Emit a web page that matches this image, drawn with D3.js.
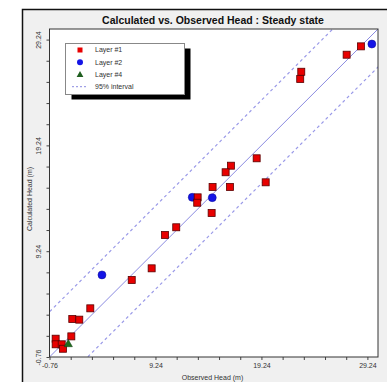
<!DOCTYPE html>
<html>
<head>
<meta charset="utf-8">
<script src="https://cdn.jsdelivr.net/npm/d3@7"></script>
<style>
  body { margin: 0; background: #fff; }
  svg { display: block; font-family: "Liberation Sans", Arial, sans-serif; }
  .tick-label { font-size: 7px; fill: #333; }
  .axis-title { font-size: 7px; fill: #333; }
  .legend-text { font-size: 7px; fill: #333; }
</style>
</head>
<body>
<div id="chart"></div>
<script>
(function() {
  'use strict';

  // values (observed, calculated)
  var layer1Obs  = [27.28, 28.63, 23.0, 22.9, 18.79, 16.36, 15.86, 19.64, 14.63, 16.27, 13.22, 13.18, 14.54, 11.2, 10.14, 8.88, 7.0, 3.09, 1.39, 2.05, 1.3, -0.18, -0.18, 0.39, 0.51];
  var layer1Calc = [27.81, 28.6, 26.2, 25.52, 18.02, 17.32, 16.7, 15.75, 15.31, 15.31, 14.33, 13.82, 12.85, 11.5, 10.77, 7.62, 6.52, 3.84, 2.83, 2.77, 1.19, 0.97, 0.44, 0.44, 0.02];
  var layer2Obs  = [29.66, 12.71, 14.6, 4.19];
  var layer2Calc = [28.82, 14.33, 14.3, 7.0];
  var layer4Obs  = [1.01];
  var layer4Calc = [0.44];

  var axisDomain = [-0.76, 30.24];
  var majorTicks = [-0.76, 9.24, 19.24, 29.24];
  var interval = [-3.6, 4.27]; // 95% band offsets from the 1:1 line
  var legendLabels = ['Layer #1', 'Layer #2', 'Layer #4', '95% interval'];

  var title = 'Calculated vs. Observed Head : Steady state';
  var xLabel = 'Observed Head (m)';
  var yLabel = 'Calculated Head (m)';

  var W = 387, H = 382;
  var plot = { left: 49.5, top: 29, right: 378, bottom: 357 };

  var svg = d3.select('#chart').append('svg')
    .attr('width', W)
    .attr('height', H);

  // grey frame
  svg.append('rect')
    .attr('x', 22.5).attr('y', 9.5)
    .attr('width', 380).attr('height', 390)
    .attr('fill', '#f0f0f0')
    .attr('stroke', '#111')
    .attr('stroke-width', 1.5);

  svg.append('text')
    .attr('x', 213).attr('y', 24)
    .attr('text-anchor', 'middle')
    .style('font-size', '10.5px')
    .style('font-weight', 'bold')
    .attr('fill', '#111')
    .text(title);

  var x = d3.scaleLinear().domain(axisDomain).range([plot.left, plot.right]);
  var y = d3.scaleLinear().domain(axisDomain).range([plot.bottom, plot.top]);

  svg.append('rect')
    .attr('x', plot.left).attr('y', plot.top)
    .attr('width', plot.right - plot.left)
    .attr('height', plot.bottom - plot.top)
    .attr('fill', '#fff');

  var minorTicks = d3.range(axisDomain[0], axisDomain[1] + 0.01, 2);

  var xAxis = d3.axisBottom(x).tickValues(minorTicks).tickSize(3)
    .tickFormat(function(d) {
      return majorTicks.some(function(m) { return Math.abs(m - d) < 0.01; }) ? d.toFixed(2) : '';
    });
  var yAxis = d3.axisLeft(y).tickValues(minorTicks).tickSize(3)
    .tickFormat(function(d) {
      return majorTicks.some(function(m) { return Math.abs(m - d) < 0.01; }) ? d.toFixed(2) : '';
    });

  var gx = svg.append('g')
    .attr('transform', 'translate(0,' + plot.bottom + ')')
    .call(xAxis);
  gx.select('.domain').remove();
  gx.selectAll('line').attr('stroke', '#444');
  gx.selectAll('text').attr('class', 'tick-label').attr('y', 6).attr('dy', '0.71em').attr('fill', '#333');

  var gy = svg.append('g')
    .attr('transform', 'translate(' + plot.left + ',0)')
    .call(yAxis);
  gy.select('.domain').remove();
  gy.selectAll('line').attr('stroke', '#444');
  gy.selectAll('text')
    .attr('class', 'tick-label')
    .attr('fill', '#333')
    .attr('x', null).attr('dy', null)
    .attr('text-anchor', 'middle')
    .attr('transform', 'translate(-9,0) rotate(-90)');

  svg.append('text')
    .attr('class', 'axis-title')
    .attr('x', 212.5).attr('y', 380)
    .attr('text-anchor', 'middle')
    .text(xLabel);

  svg.append('text')
    .attr('class', 'axis-title')
    .attr('text-anchor', 'middle')
    .attr('transform', 'translate(31.5,199) rotate(-90)')
    .text(yLabel);

  // 1:1 line and 95% interval lines, clipped to the plot
  svg.append('clipPath').attr('id', 'plot-clip')
    .append('rect')
    .attr('x', plot.left).attr('y', plot.top)
    .attr('width', plot.right - plot.left)
    .attr('height', plot.bottom - plot.top);

  var lines = svg.append('g').attr('clip-path', 'url(#plot-clip)');
  var ext = [axisDomain[0] - 10, axisDomain[1] + 10];

  lines.append('line')
    .attr('x1', x(ext[0])).attr('y1', y(ext[0]))
    .attr('x2', x(ext[1])).attr('y2', y(ext[1]))
    .attr('stroke', '#8a8ae0')
    .attr('stroke-width', 1);

  interval.forEach(function(off) {
    lines.append('line')
      .attr('x1', x(ext[0])).attr('y1', y(ext[0] + off))
      .attr('x2', x(ext[1])).attr('y2', y(ext[1] + off))
      .attr('stroke', '#9a9ae8')
      .attr('stroke-width', 1.2)
      .attr('stroke-dasharray', '3,3');
  });

  // points
  var sq = 7;
  svg.append('g').selectAll('circle')
    .data(layer2Obs)
    .enter().append('circle')
    .attr('cx', function(d) { return x(d); })
    .attr('cy', function(d, i) { return y(layer2Calc[i]); })
    .attr('r', 4)
    .attr('fill', '#1414e6')
    .attr('stroke', '#0a0a90')
    .attr('stroke-width', 0.5);

  svg.append('g').selectAll('rect')
    .data(layer1Obs)
    .enter().append('rect')
    .attr('x', function(d) { return x(d) - sq / 2; })
    .attr('y', function(d, i) { return y(layer1Calc[i]) - sq / 2; })
    .attr('width', sq).attr('height', sq)
    .attr('fill', '#e80000')
    .attr('stroke', '#5a0000')
    .attr('stroke-width', 0.8);

  var tri = d3.symbol().type(d3.symbolTriangle).size(30);
  svg.append('g').selectAll('path')
    .data(layer4Obs)
    .enter().append('path')
    .attr('d', tri)
    .attr('transform', function(d, i) {
      return 'translate(' + x(d) + ',' + y(layer4Calc[i]) + ')';
    })
    .attr('fill', '#1e6e1e')
    .attr('stroke', '#0e3e0e')
    .attr('stroke-width', 0.5);

  // plot border
  svg.append('rect')
    .attr('x', plot.left).attr('y', plot.top)
    .attr('width', plot.right - plot.left)
    .attr('height', plot.bottom - plot.top)
    .attr('fill', 'none')
    .attr('stroke', '#333')
    .attr('stroke-width', 1);

  // legend
  var lg = { x: 65.5, y: 43.5, w: 119, h: 51 };
  svg.append('rect')
    .attr('x', lg.x + 6).attr('y', lg.y + 5)
    .attr('width', lg.w).attr('height', lg.h)
    .attr('fill', '#000');
  svg.append('rect')
    .attr('x', lg.x).attr('y', lg.y)
    .attr('width', lg.w).attr('height', lg.h)
    .attr('fill', '#fff')
    .attr('stroke', '#888')
    .attr('stroke-width', 1);

  var rowY = [50, 62.3, 74.5, 86.7];
  var symX = 80;

  svg.append('rect')
    .attr('x', symX - 2.5).attr('y', rowY[0] - 2.5)
    .attr('width', 5).attr('height', 5)
    .attr('fill', '#e80000');
  svg.append('circle')
    .attr('cx', symX).attr('cy', rowY[1]).attr('r', 3)
    .attr('fill', '#1414e6');
  svg.append('path')
    .attr('d', d3.symbol().type(d3.symbolTriangle).size(20))
    .attr('transform', 'translate(' + symX + ',' + (rowY[2] + 0.5) + ')')
    .attr('fill', '#1e5e1e');
  svg.append('line')
    .attr('x1', 72).attr('x2', 86)
    .attr('y1', rowY[3]).attr('y2', rowY[3])
    .attr('stroke', '#8a8ae0')
    .attr('stroke-dasharray', '2,2');

  svg.append('g').selectAll('text')
    .data(legendLabels)
    .enter().append('text')
    .attr('class', 'legend-text')
    .attr('x', 95)
    .attr('y', function(d, i) { return rowY[i]; })
    .attr('dy', '0.35em')
    .text(function(d) { return d; });
})();
</script>
</body>
</html>
